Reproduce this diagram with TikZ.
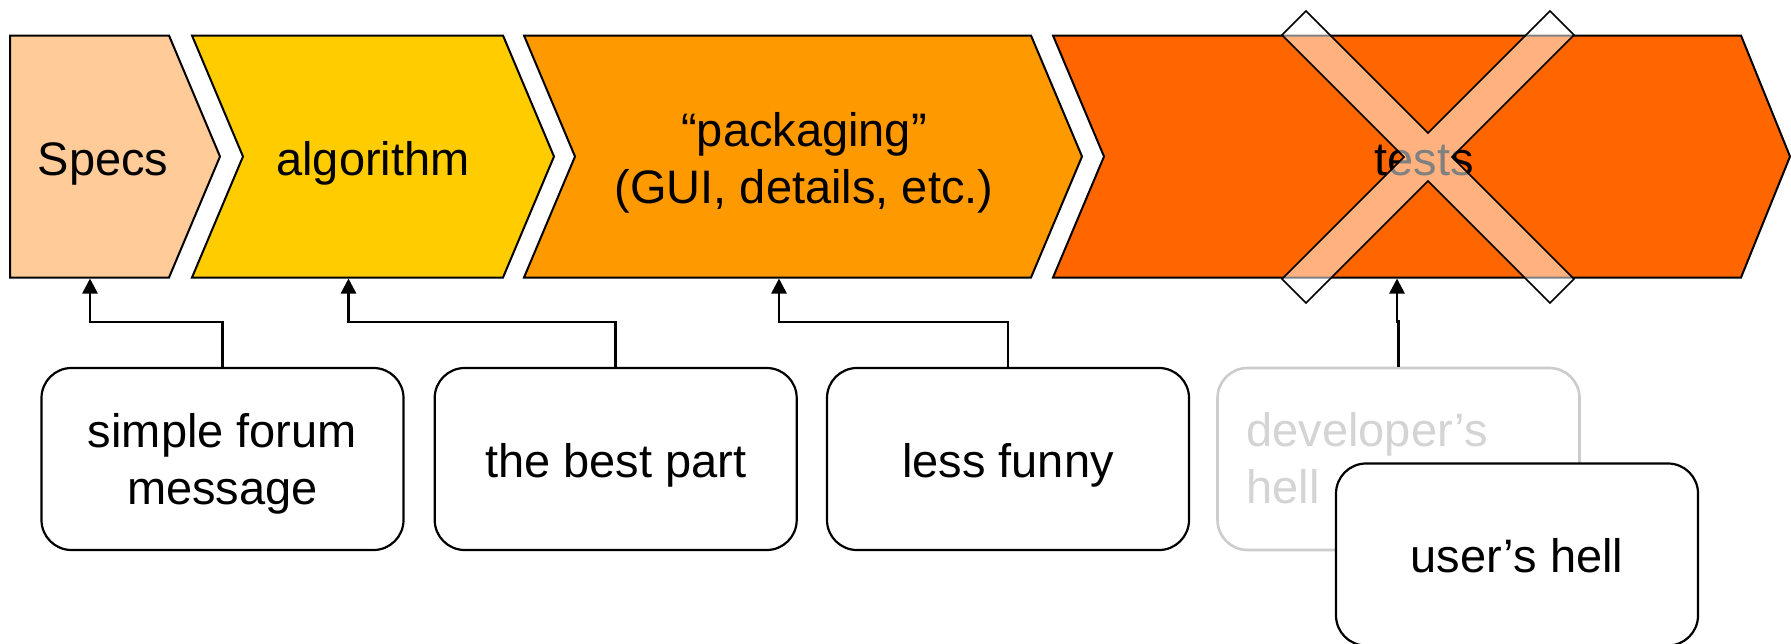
\documentclass[tikz,border=0pt]{standalone}
\usepackage{fontspec}
\setmainfont{Liberation Sans}
\usetikzlibrary{arrows.meta}

\definecolor{cSpecs}{HTML}{FFCC99}
\definecolor{cAlgo}{HTML}{FFCC00}
\definecolor{cPack}{HTML}{FF9900}
\definecolor{cTests}{HTML}{FF6600}
\definecolor{ghost}{HTML}{CCCCCC}
\definecolor{ghosttext}{HTML}{D4D4D4}

\tikzset{
  phase/.style={draw=black, line width=1pt, line join=miter},
  txt/.style={inner sep=0pt, font=\fontsize{23.5pt}{28.5pt}\selectfont, align=center},
  box/.style={draw=black, fill=white, line width=1.1pt, rounded corners=15pt,
    minimum width=181pt, minimum height=91pt, inner sep=0pt},
  ghostbox/.style={box, draw=ghost, line width=1.3pt},
  conn/.style={draw=black, line width=1.3pt, -{Triangle[length=7.5pt,width=7.5pt]}},
  cross/.style={draw=black, line width=0.8pt, fill=white, fill opacity=0.5, line join=miter},
}

\begin{document}
\begin{tikzpicture}[x=0.5pt, y=-0.5pt]
\useasboundingbox (0,0) rectangle (1791,643);

% process chevrons
\fill[cSpecs, phase] (10,35.5) -- (169,35.5) -- (220,156.5) -- (169,277.5) -- (10,277.5) -- cycle;
\fill[cAlgo, phase] (192,35.5) -- (503,35.5) -- (554,156.5) -- (503,277.5) -- (192,277.5) -- (243,156.5) -- cycle;
\fill[cPack, phase] (524,35.5) -- (1031,35.5) -- (1082,156.5) -- (1031,277.5) -- (524,277.5) -- (575,156.5) -- cycle;
\fill[cTests, phase] (1053,35.5) -- (1741,35.5) -- (1790,156.5) -- (1741,277.5) -- (1053,277.5) -- (1104,156.5) -- cycle;

% chevron labels
\node[txt, anchor=base] (specs) at (103,175) {Specs};
\node[txt, anchor=base] (algo) at (373,175) {algorithm};
\node[txt] (pack) at (804,162.5) {“packaging”\\(GUI, details, etc.)};
\node[txt, anchor=base] (tests) at (1424,175) {tests};

% arrow targets on the chevrons' lower edge
\coordinate (a1) at (90,278.5);
\coordinate (a2) at (348.5,278.5);
\coordinate (a3) at (779,278.5);
\coordinate (a4) at (1397,278.5);

% crossing-out mark over the last phase
\begin{scope}[shift={(1428,157)}]
\path[cross] (-146,-122) -- (-122,-146) -- (0,-24) -- (122,-146) -- (146,-122) -- (24,0)
  -- (146,122) -- (122,146) -- (0,24) -- (-122,146) -- (-146,122) -- (-24,0) -- cycle;
\end{scope}

% comment boxes
\node[box] (b1) at (222.5,459) {};
\node[box] (b2) at (615.7,459) {};
\node[box] (b3) at (1008,459) {};
\node[ghostbox] (b4) at (1398.5,459) {};

\node[txt] (t1) at (222.5,464) {simple forum\\message};
\node[txt, anchor=base] (t2) at (615.7,477) {the best part};
\node[txt, anchor=base] (t3) at (1008,477) {less funny};
\node[txt, align=left, anchor=west, text=ghosttext] (t4) at (1246,458.5) {developer’s\\hell};

\node[box] (b5) at (1517,554.5) {};
\node[txt, anchor=base] (t5) at (1517,572) {user’s hell};

% connectors
\draw[conn] (b1.north) -- ++(0,-45) -| (a1);
\draw[conn] (b2.north) -- ++(0,-45) -| (a2);
\draw[conn] (b3.north) -- ++(0,-45) -| (a3);
\draw[conn] (b4.north) -- ++(0,-45) -| (a4);
\end{tikzpicture}
\end{document}
